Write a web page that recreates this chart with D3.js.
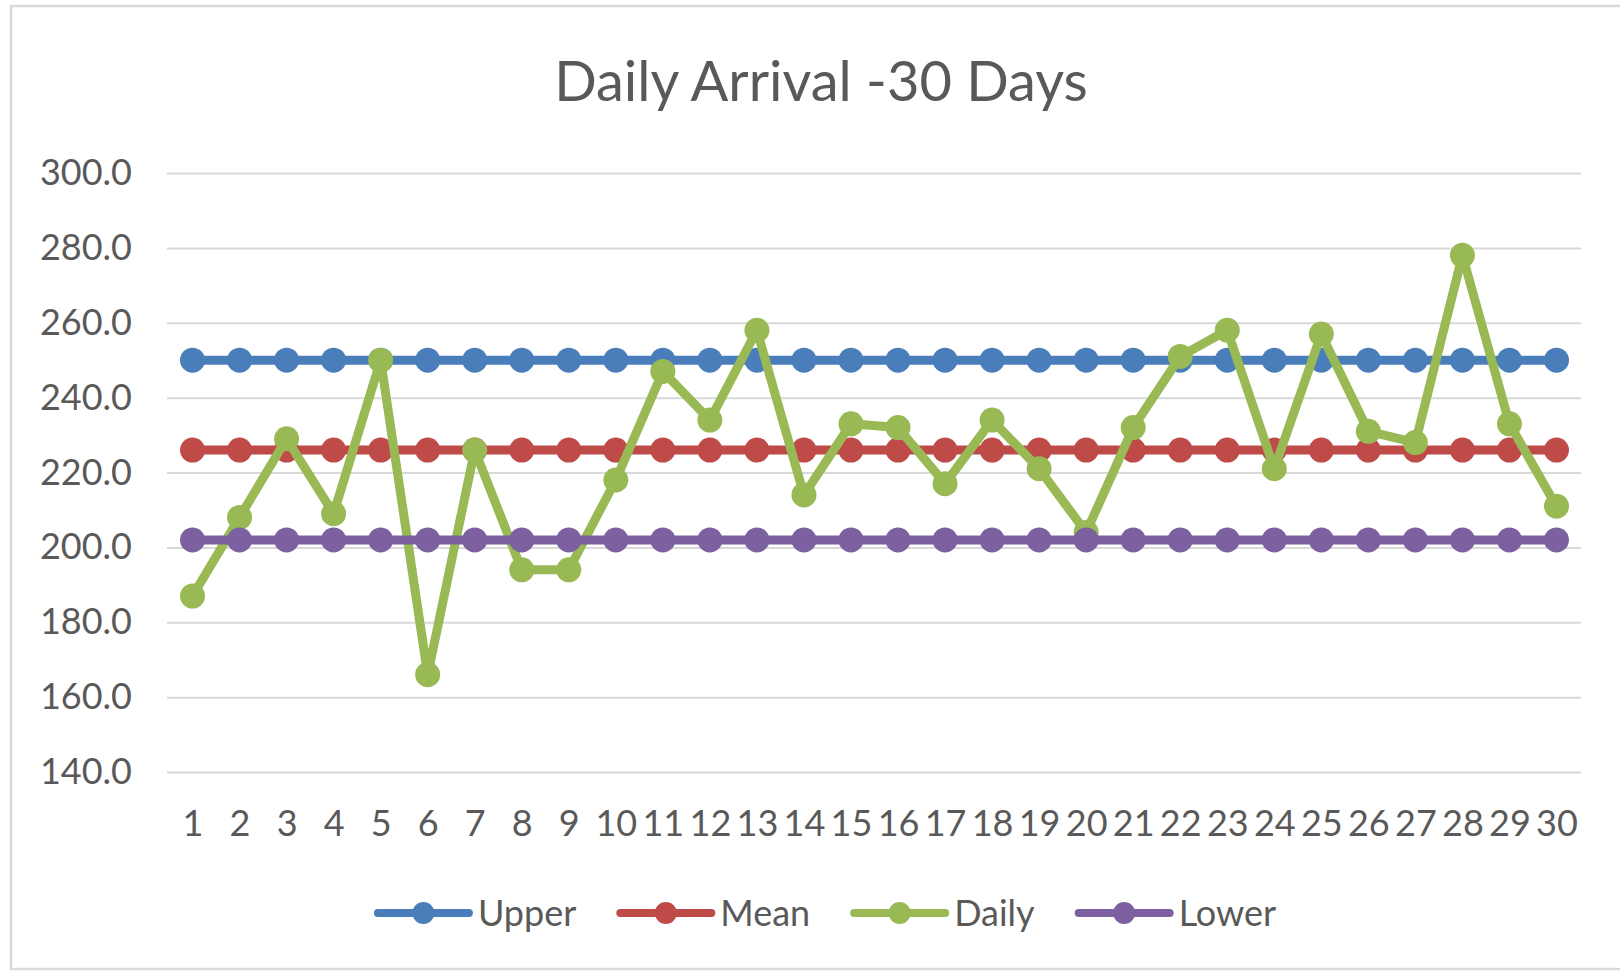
<!DOCTYPE html>
<html>
<head>
<meta charset="utf-8">
<script src="https://cdn.jsdelivr.net/npm/d3@7"></script>
<style>
  html, body { margin: 0; padding: 0; background: #ffffff; overflow: hidden; }
  svg { display: block; }
</style>
</head>
<body>
<svg id="chart" width="1620" height="974"></svg>
<script>
// ---------- data ----------
const chartTitle = "Daily Arrival -30 Days";
const days = ["1","2","3","4","5","6","7","8","9","10","11","12","13","14","15",
              "16","17","18","19","20","21","22","23","24","25","26","27","28","29","30"];
const yTickValues = [140, 160, 180, 200, 220, 240, 260, 280, 300];
const seriesNames = ["Upper", "Mean", "Daily", "Lower"];
const seriesColors = ["#4a7ebb", "#be4b48", "#98b954", "#7d60a0"];
const upperValues = [250,250,250,250,250,250,250,250,250,250,250,250,250,250,250,
                     250,250,250,250,250,250,250,250,250,250,250,250,250,250,250];
const meanValues  = [226,226,226,226,226,226,226,226,226,226,226,226,226,226,226,
                     226,226,226,226,226,226,226,226,226,226,226,226,226,226,226];
const dailyValues = [187,208,229,209,250,166,226,194,194,218,247,234,258,214,233,
                     232,217,234,221,204,232,251,258,221,257,231,228,278,233,211];
const lowerValues = [202,202,202,202,202,202,202,202,202,202,202,202,202,202,202,
                     202,202,202,202,202,202,202,202,202,202,202,202,202,202,202];
const seriesValues = [upperValues, meanValues, dailyValues, lowerValues];

// ---------- layout ----------
const W = 1620, H = 974;
const plot = { left: 167, right: 1581, top: 173, bottom: 772 };
const textColor = "#595959";
const gridColor = "#d9d9d9";
const fontFamily = "Lato, 'Open Sans', sans-serif";

const svg = d3.select("#chart");
svg.append("rect").attr("width", W).attr("height", H).attr("fill", "#ffffff");

// chart border (right edge cut off in reference)
svg.append("path")
  .attr("d", `M${W + 5},6 H11 V969 H${W + 5}`)
  .attr("fill", "none")
  .attr("stroke", gridColor)
  .attr("stroke-width", 2.5);

const x = d3.scalePoint().domain(days).range([plot.left + 2, plot.right - 1]).padding(0.5);
const y = d3.scaleLinear().domain([140, 300]).range([plot.bottom, plot.top]);

// gridlines
const grid = svg.append("g").attr("transform", `translate(${plot.left},0)`)
  .call(d3.axisLeft(y).tickValues(yTickValues).tickSize(-(plot.right - plot.left)).tickFormat(""));
grid.select(".domain").remove();
grid.selectAll(".tick line").attr("stroke", gridColor).attr("stroke-width", 2);

// y axis labels
const yAxis = svg.append("g").attr("transform", `translate(${plot.left},0)`)
  .call(d3.axisLeft(y).tickValues(yTickValues).tickFormat(d3.format(".1f")).tickSize(0).tickPadding(35));
yAxis.select(".domain").remove();
yAxis.selectAll("text")
  .attr("fill", textColor)
  .style("font-family", fontFamily)
  .style("font-size", "36px");

// x axis labels
const xAxis = svg.append("g").attr("transform", `translate(0,${plot.bottom})`)
  .call(d3.axisBottom(x).tickSize(0).tickPadding(38));
xAxis.select(".domain").remove();
xAxis.selectAll("text")
  .attr("fill", textColor)
  .style("font-family", fontFamily)
  .style("font-size", "36px");

// title
svg.append("text")
  .attr("x", 821).attr("y", 101)
  .attr("text-anchor", "middle")
  .attr("fill", textColor)
  .style("font-family", fontFamily)
  .style("font-size", "56px")
  .text(chartTitle);

// series
const line = d3.line().x((d, i) => x(days[i])).y(d => y(d));
seriesValues.forEach((vals, si) => {
  const g = svg.append("g").attr("class", "series-" + seriesNames[si]);
  g.append("path")
    .datum(vals)
    .attr("d", line)
    .attr("fill", "none")
    .attr("stroke", seriesColors[si])
    .attr("stroke-width", 9)
    .attr("stroke-linejoin", "round")
    .attr("stroke-linecap", "round");
  g.selectAll("circle")
    .data(vals)
    .join("circle")
    .attr("cx", (d, i) => x(days[i]))
    .attr("cy", d => y(d))
    .attr("r", 12.5)
    .attr("fill", seriesColors[si]);
});

// legend
const legend = svg.append("g");
const legendY = 913;
const lineLen = 91, textGap = 9, itemGap = 44;
const items = seriesNames.map((name, i) => {
  const g = legend.append("g");
  g.append("line")
    .attr("x1", 0).attr("x2", lineLen)
    .attr("y1", legendY).attr("y2", legendY)
    .attr("stroke", seriesColors[i])
    .attr("stroke-width", 8)
    .attr("stroke-linecap", "round");
  g.append("circle")
    .attr("cx", lineLen / 2).attr("cy", legendY)
    .attr("r", 11)
    .attr("fill", seriesColors[i]);
  const t = g.append("text")
    .attr("x", lineLen + textGap).attr("y", legendY)
    .attr("dy", "0.35em")
    .attr("fill", textColor)
    .style("font-family", fontFamily)
    .style("font-size", "36px")
    .text(name);
  const w = lineLen + textGap + t.node().getComputedTextLength();
  return { g, w };
});
const totalW = d3.sum(items, d => d.w) + itemGap * (items.length - 1);
let cx = 827 - totalW / 2;
items.forEach(it => {
  it.g.attr("transform", `translate(${cx},0)`);
  cx += it.w + itemGap;
});
</script>
</body>
</html>
